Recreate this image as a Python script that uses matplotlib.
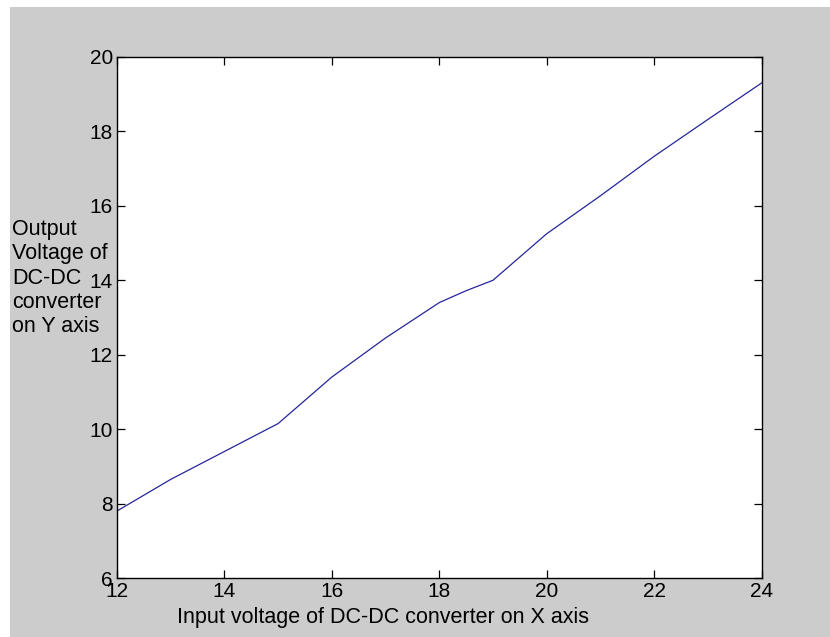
import matplotlib
matplotlib.use('Agg')
import matplotlib.pyplot as plt
from matplotlib.patches import Rectangle

# input voltage (x) and output voltage (y)
vin = [12, 13, 14, 15, 16, 17, 18, 18.5, 19, 20, 21, 22, 23, 24]
vout = [7.8, 8.65, 9.4, 10.15, 11.4, 12.45, 13.4, 13.72, 14.0, 15.25, 16.27, 17.33, 18.32, 19.3]

xticks = [12, 14, 16, 18, 20, 22, 24]
yticks = [6, 8, 10, 12, 14, 16, 18, 20]

plt.rcParams['font.family'] = ['Liberation Sans', 'DejaVu Sans']

fig = plt.figure(figsize=(8.3, 6.37), dpi=100, facecolor='white')
# matlab style grey window area
bg = Rectangle((10 / 830, 0), 1, 1 - 7 / 637, transform=fig.transFigure,
               facecolor='#cccccc', edgecolor='none', zorder=-10)
fig.add_artist(bg)

ax = fig.add_axes([117 / 830, 1 - 578 / 637, (761.5 - 117) / 830, (578 - 57) / 637])
ax.set_facecolor('white')
ax.plot(vin, vout, color='#25259a', linewidth=0.9)

ax.set_xlim(12, 24)
ax.set_ylim(6, 20)
ax.set_xticks(xticks)
ax.set_yticks(yticks)
ax.tick_params(direction='in', length=6, width=0.9, top=True, right=True,
               labelsize=15, pad=3, colors='black')
for s in ax.spines.values():
    s.set_linewidth(1.0)
    s.set_color('black')

fig.text(383 / 830, 1 - 618 / 637, 'Input voltage of DC-DC converter on X axis',
         ha='center', va='center', fontsize=15.5)
fig.text(12 / 830, 1 - 278 / 637, 'Output\nVoltage of\nDC-DC\nconverter\non Y axis',
         ha='left', va='center', fontsize=15.5, linespacing=1.2)

fig.savefig('out.png', dpi=100, facecolor=fig.get_facecolor())
